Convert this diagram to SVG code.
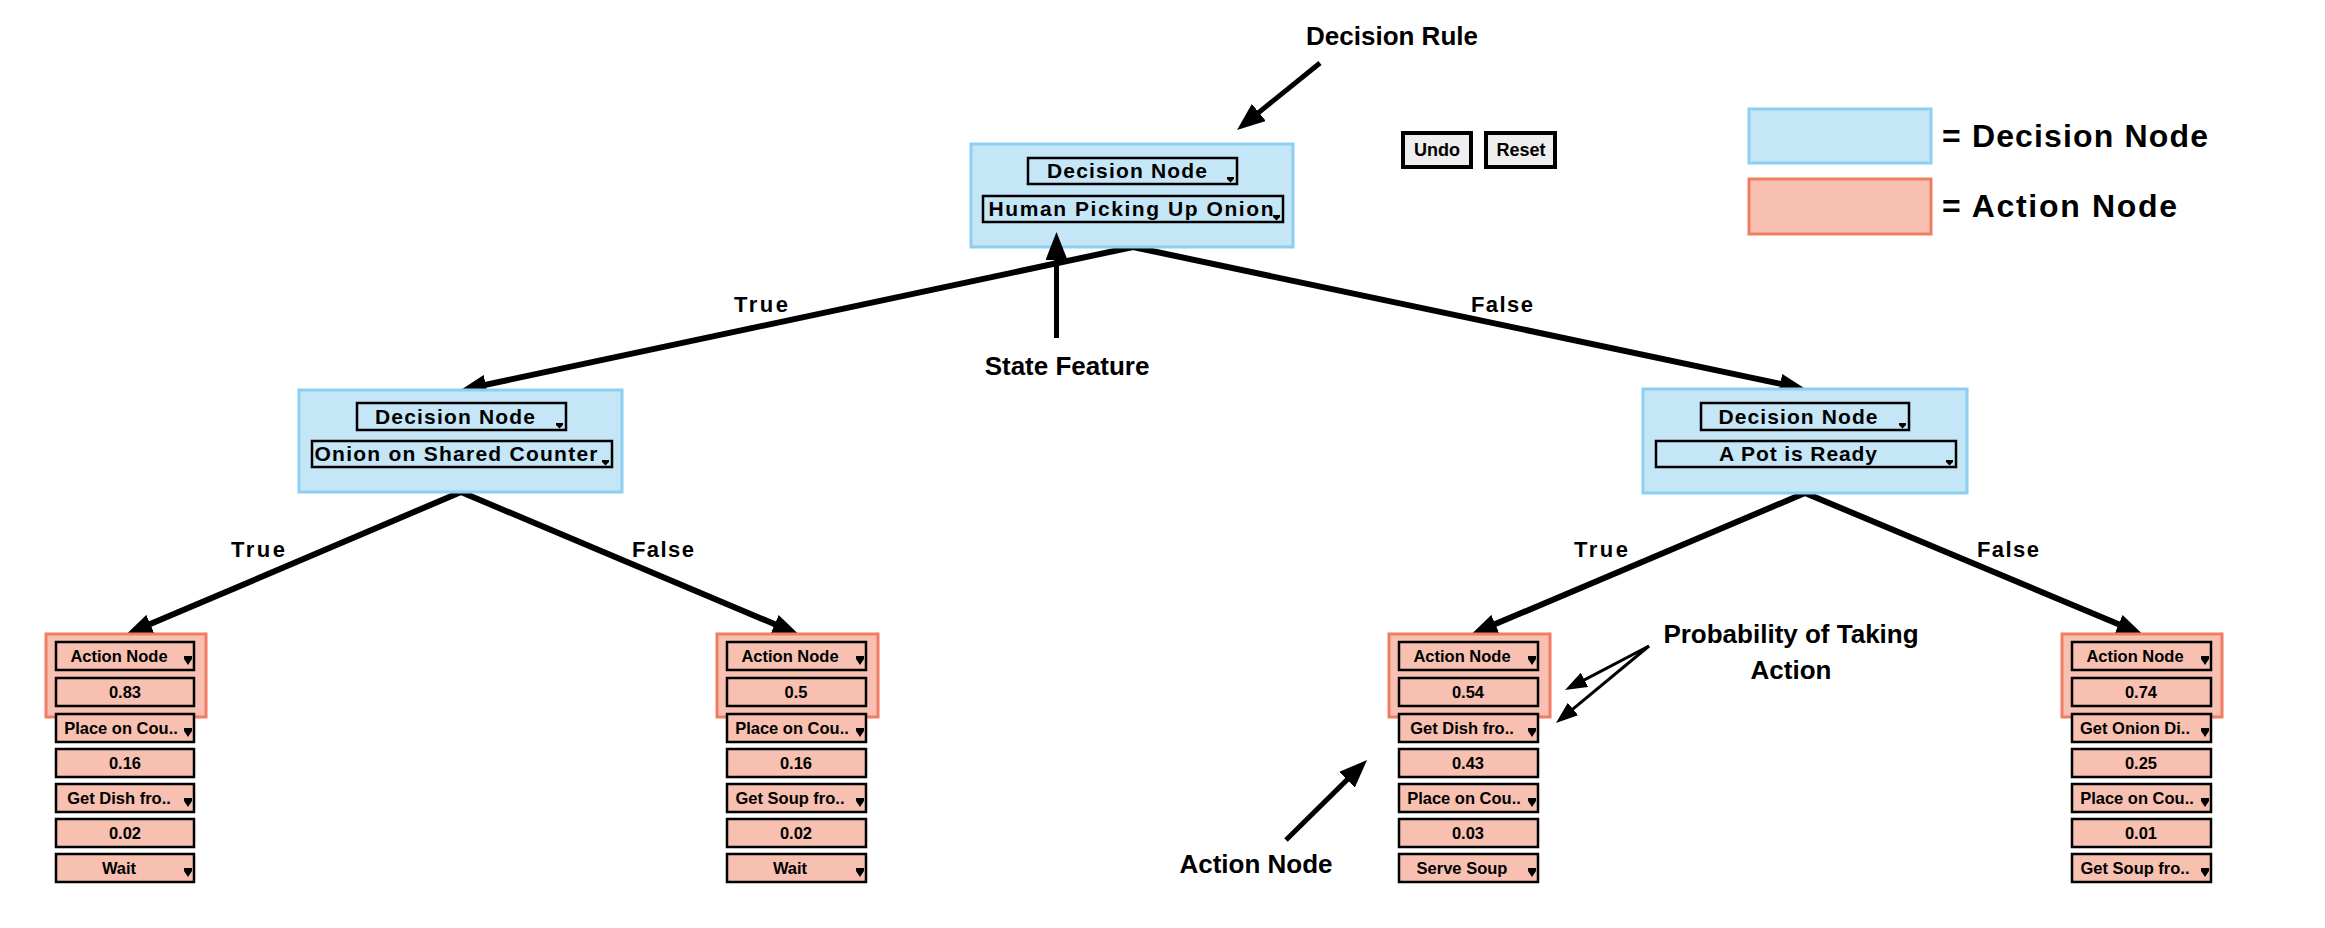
<svg xmlns="http://www.w3.org/2000/svg" width="2325" height="928" viewBox="0 0 2325 928">
<defs>
<style>
text{font-family:"Liberation Sans",Arial,Helvetica,sans-serif;font-weight:bold;fill:#000;}
.dec{fill:#c5e6f6;stroke:#8dcff0;stroke-width:3;}
.act{fill:#f7c0b1;stroke:#ef7e63;stroke-width:3;}
.sel{fill:#c5e6f6;stroke:#000;stroke-width:2.5;}
.item{fill:#f7c0b1;stroke:#000;stroke-width:2.5;}
.btn{fill:#eeeeee;stroke:#000;stroke-width:4;}
.st{font-size:21px;text-anchor:middle;}
.bt{font-size:18px;text-anchor:middle;}
.it{font-size:16.5px;text-anchor:middle;}
.lbl{font-size:22px;text-anchor:middle;}
.ann{font-size:26px;text-anchor:middle;}
.edge{stroke:#000;stroke-width:6;fill:none;}
.annl{stroke:#000;stroke-width:5;fill:none;}
.annt{stroke:#000;stroke-width:3;fill:none;}
</style>
<marker id="ah" markerUnits="userSpaceOnUse" markerWidth="26" markerHeight="20" refX="9" refY="10" orient="auto"><path d="M0,0 L26,10 L0,20 z" fill="#000"/></marker>
<marker id="ab" markerUnits="userSpaceOnUse" markerWidth="28" markerHeight="22" refX="8" refY="11" orient="auto"><path d="M0,0 L28,11 L0,22 z" fill="#000"/></marker>
<marker id="as" markerUnits="userSpaceOnUse" markerWidth="22" markerHeight="16" refX="6" refY="8" orient="auto"><path d="M0,0 L22,8 L0,16 z" fill="#000"/></marker>
<path id="dd" d="M0,0 h8 v3 l-4,6 l-4,-6 z" fill="#000"/>
<path id="ds" d="M0,0 h7 v2 l-3.5,3.5 l-3.5,-3.5 z" fill="#000"/>
</defs>
<rect width="2325" height="928" fill="#fff"/>

<g id="connectors">
<line class="edge" x1="1133" y1="247" x2="477" y2="386.6" marker-end="url(#ah)"/>
<line class="edge" x1="1133" y1="247" x2="1789" y2="385.6" marker-end="url(#ah)"/>
<line class="edge" x1="461" y1="492" x2="142" y2="627.6" marker-end="url(#ah)"/>
<line class="edge" x1="461" y1="492" x2="783" y2="627.7" marker-end="url(#ah)"/>
<line class="edge" x1="1805" y1="493" x2="1487" y2="627.6" marker-end="url(#ah)"/>
<line class="edge" x1="1805" y1="493" x2="2127" y2="627.7" marker-end="url(#ah)"/>
<text class="lbl" x="761" y="312" textLength="54">True</text>
<text class="lbl" x="1502" y="312" textLength="62">False</text>
<text class="lbl" x="258" y="557" textLength="54">True</text>
<text class="lbl" x="663" y="557" textLength="62">False</text>
<text class="lbl" x="1601" y="557" textLength="54">True</text>
<text class="lbl" x="2008" y="557" textLength="62">False</text>
</g>

<g id="root">
<rect class="dec" x="971" y="144" width="322" height="103"/>
<rect class="sel" x="1028" y="158" width="209" height="26"/>
<text class="st" x="1127" y="178" textLength="160">Decision Node</text>
<use href="#ds" x="1227" y="177"/>
<rect class="sel" x="983" y="196" width="300" height="26"/>
<text class="st" x="1131" y="216" textLength="285">Human Picking Up Onion</text>
<use href="#ds" x="1273" y="215"/>
</g>

<g id="dec-left">
<rect class="dec" x="299" y="390" width="323" height="102"/>
<rect class="sel" x="357" y="403" width="209" height="27"/>
<text class="st" x="455" y="424" textLength="160">Decision Node</text>
<use href="#ds" x="556" y="423"/>
<rect class="sel" x="312" y="441" width="300" height="26"/>
<text class="st" x="456" y="461" textLength="283">Onion on Shared Counter</text>
<use href="#ds" x="602" y="460"/>
</g>

<g id="dec-right">
<rect class="dec" x="1643" y="389" width="324" height="104"/>
<rect class="sel" x="1701" y="403" width="208" height="27"/>
<text class="st" x="1798" y="424" textLength="159">Decision Node</text>
<use href="#ds" x="1899" y="423"/>
<rect class="sel" x="1656" y="441" width="300" height="26"/>
<text class="st" x="1798" y="461" textLength="158">A Pot is Ready</text>
<use href="#ds" x="1946" y="460"/>
</g>

<g id="action-1">
<rect class="act" x="46" y="634" width="160" height="83"/>
<rect class="item" x="56" y="642" width="138" height="28"/><text class="it" x="119" y="662">Action Node</text><use href="#dd" x="184" y="656"/>
<rect class="item" x="56" y="678" width="138" height="28"/><text class="it" x="125" y="698">0.83</text>
<rect class="item" x="56" y="714" width="138" height="28"/><text class="it" x="121" y="734">Place on Cou..</text><use href="#dd" x="184" y="728"/>
<rect class="item" x="56" y="749" width="138" height="28"/><text class="it" x="125" y="769">0.16</text>
<rect class="item" x="56" y="784" width="138" height="28"/><text class="it" x="119" y="804">Get Dish fro..</text><use href="#dd" x="184" y="798"/>
<rect class="item" x="56" y="819" width="138" height="28"/><text class="it" x="125" y="839">0.02</text>
<rect class="item" x="56" y="854" width="138" height="28"/><text class="it" x="119" y="874">Wait</text><use href="#dd" x="184" y="868"/>
</g>

<g id="action-2">
<rect class="act" x="717" y="634" width="161" height="83"/>
<rect class="item" x="727" y="642" width="139" height="28"/><text class="it" x="790" y="662">Action Node</text><use href="#dd" x="856" y="656"/>
<rect class="item" x="727" y="678" width="139" height="28"/><text class="it" x="796" y="698">0.5</text>
<rect class="item" x="727" y="714" width="139" height="28"/><text class="it" x="792" y="734">Place on Cou..</text><use href="#dd" x="856" y="728"/>
<rect class="item" x="727" y="749" width="139" height="28"/><text class="it" x="796" y="769">0.16</text>
<rect class="item" x="727" y="784" width="139" height="28"/><text class="it" x="790" y="804">Get Soup fro..</text><use href="#dd" x="856" y="798"/>
<rect class="item" x="727" y="819" width="139" height="28"/><text class="it" x="796" y="839">0.02</text>
<rect class="item" x="727" y="854" width="139" height="28"/><text class="it" x="790" y="874">Wait</text><use href="#dd" x="856" y="868"/>
</g>

<g id="action-3">
<rect class="act" x="1389" y="634" width="161" height="83"/>
<rect class="item" x="1399" y="642" width="139" height="28"/><text class="it" x="1462" y="662">Action Node</text><use href="#dd" x="1528" y="656"/>
<rect class="item" x="1399" y="678" width="139" height="28"/><text class="it" x="1468" y="698">0.54</text>
<rect class="item" x="1399" y="714" width="139" height="28"/><text class="it" x="1462" y="734">Get Dish fro..</text><use href="#dd" x="1528" y="728"/>
<rect class="item" x="1399" y="749" width="139" height="28"/><text class="it" x="1468" y="769">0.43</text>
<rect class="item" x="1399" y="784" width="139" height="28"/><text class="it" x="1464" y="804">Place on Cou..</text><use href="#dd" x="1528" y="798"/>
<rect class="item" x="1399" y="819" width="139" height="28"/><text class="it" x="1468" y="839">0.03</text>
<rect class="item" x="1399" y="854" width="139" height="28"/><text class="it" x="1462" y="874">Serve Soup</text><use href="#dd" x="1528" y="868"/>
</g>

<g id="action-4">
<rect class="act" x="2062" y="634" width="160" height="83"/>
<rect class="item" x="2072" y="642" width="139" height="28"/><text class="it" x="2135" y="662">Action Node</text><use href="#dd" x="2201" y="656"/>
<rect class="item" x="2072" y="678" width="139" height="28"/><text class="it" x="2141" y="698">0.74</text>
<rect class="item" x="2072" y="714" width="139" height="28"/><text class="it" x="2135" y="734">Get Onion Di..</text><use href="#dd" x="2201" y="728"/>
<rect class="item" x="2072" y="749" width="139" height="28"/><text class="it" x="2141" y="769">0.25</text>
<rect class="item" x="2072" y="784" width="139" height="28"/><text class="it" x="2137" y="804">Place on Cou..</text><use href="#dd" x="2201" y="798"/>
<rect class="item" x="2072" y="819" width="139" height="28"/><text class="it" x="2141" y="839">0.01</text>
<rect class="item" x="2072" y="854" width="139" height="28"/><text class="it" x="2135" y="874">Get Soup fro..</text><use href="#dd" x="2201" y="868"/>
</g>

<g id="buttons">
<rect class="btn" x="1403" y="133" width="68" height="34"/>
<text class="bt" x="1437" y="156">Undo</text>
<rect class="btn" x="1486" y="133" width="69" height="34"/>
<text class="bt" x="1521" y="156">Reset</text>
</g>

<g id="legend">
<rect class="dec" x="1749" y="109" width="182" height="54"/>
<text x="1942" y="147" font-size="32" textLength="266">= Decision Node</text>
<rect class="act" x="1749" y="179" width="182" height="55"/>
<text x="1942" y="217" font-size="32" textLength="235">= Action Node</text>
</g>

<g id="annotations">
<line class="annl" x1="1320" y1="63" x2="1252.6" y2="117.4" marker-end="url(#ab)"/>
<text class="ann" x="1392" y="45">Decision Rule</text>
<line class="annl" x1="1056.5" y1="338" x2="1056.5" y2="252" marker-end="url(#ab)"/>
<text class="ann" x="1067" y="375">State Feature</text>
<line class="annt" x1="1649" y1="646" x2="1579.2" y2="682.6" marker-end="url(#as)"/>
<line class="annt" x1="1649" y1="646" x2="1568.3" y2="712.8" marker-end="url(#as)"/>
<text class="ann" x="1791" y="643">Probability of Taking</text>
<text class="ann" x="1791" y="679">Action</text>
<line class="annl" x1="1286" y1="840" x2="1352.8" y2="774.1" marker-end="url(#ab)"/>
<text class="ann" x="1256" y="873">Action Node</text>
</g>
</svg>
